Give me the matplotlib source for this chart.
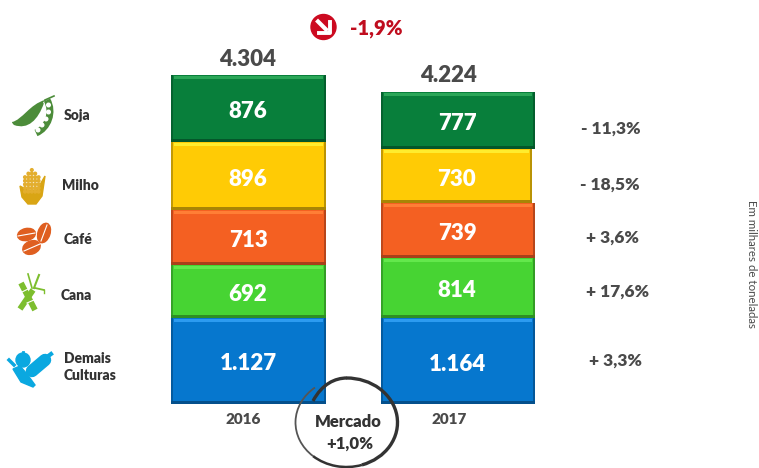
import matplotlib
matplotlib.use("Agg")
import matplotlib.pyplot as plt
import matplotlib.patches as patches
from matplotlib.path import Path

plt.rcParams["font.family"] = ["Lato", "DejaVu Sans"]

W, H = 759, 468

# stacked from the bottom up
categories = ["Demais Culturas", "Cana", "Café", "Milho", "Soja"]
values_2016 = [1127, 692, 713, 896, 876]
values_2017 = [1164, 814, 739, 730, 777]
total_2016 = 4304
total_2017 = 4224
years = ["2016", "2017"]
changes = ["+ 3,3%", "+ 17,6%", "+ 3,6%", "- 18,5%", "- 11,3%"]
total_change = "-1,9%"
market_label = "Mercado\n+1,0%"
unit_label = "Em milhares de toneladas"

COLORS = ["#0677CE", "#47D433", "#F46022", "#FFCB05", "#087F3B"]
LIGHT = ["#2C9BF0", "#63E84C", "#FF7E36", "#FFEC2E", "#2BA658"]
DARK = ["#04508C", "#2E8F22", "#A8401A", "#A88505", "#04562A"]
GREY = "#4A4A4A"
BOLD = 800


def fmt(v):
    return f"{v:,}".replace(",", ".")


def draw_stack(left, right, top, bottom, values, total, text_x):
    ax = fig.add_axes([left / W, 1 - bottom / H, (right - left) / W, (bottom - top) / H])
    ax.set_xlim(0, 1)
    ax.set_ylim(0, total)
    ax.axis("off")
    px_y = total / (bottom - top)
    px_x = 1 / (right - left)

    base = 0
    for i, v in enumerate(values):
        # the yellow 2017 block is a bit narrower in the original
        w = 1.0
        if total == total_2017 and i == 3:
            w = 1 - 3 * px_x
        ax.bar(0, v, w, bottom=base, align="edge", color=COLORS[i], linewidth=0)
        # bevel: light on top, dark below and at the sides
        ax.bar(3 * px_x, 3 * px_y, w - 6 * px_x, bottom=base + v - 4 * px_y, align="edge",
               color=LIGHT[i], linewidth=0)
        ax.bar(0, 3 * px_y, w, bottom=base, align="edge", color=DARK[i], linewidth=0)
        ax.bar(0, v, 1.5 * px_x, bottom=base, align="edge", color=DARK[i], linewidth=0, alpha=0.7)
        ax.bar(w - 2 * px_x, v, 2 * px_x, bottom=base, align="edge", color=DARK[i], linewidth=0, alpha=0.8)
        base += v

    # labels go through the same scale
    base = 0
    for i, v in enumerate(values):
        x = (text_x - left) / (right - left)
        ax.text(x, base + v / 2 - 3 * px_y, fmt(v), color="white", fontsize=16, fontweight=BOLD,
                ha="center", va="center")
        base += v


def blob(ov, verts, color, z=3):
    codes = [Path.MOVETO] + [Path.CURVE4] * (len(verts) - 2) + [Path.CLOSEPOLY]
    ov.add_patch(patches.PathPatch(Path(verts, codes), facecolor=color, edgecolor="none", zorder=z))


def icon_soja(ov):
    c = "#4C8C3A"
    blob(ov, [(12, 122), (22, 120), (30, 104), (45, 100), (48, 99), (50, 98), (44, 103),
              (38, 120), (28, 130), (14, 125), (13, 124), (12, 123), (12, 122)], c)
    curve = Path([(36, 133), (48, 128), (54, 112), (47, 100)],
                 [Path.MOVETO, Path.CURVE4, Path.CURVE4, Path.CURVE4])
    ov.add_patch(patches.PathPatch(curve, facecolor="none", edgecolor="white", lw=6.5, zorder=3))
    ov.add_patch(patches.PathPatch(curve, facecolor="none", edgecolor=c, lw=5, zorder=3))
    ov.plot([45, 54], [100, 96], color=c, lw=1.2, zorder=3)
    for x, y in [(48.5, 105), (48.5, 112), (46, 119), (42, 125), (38, 130)]:
        ov.add_patch(patches.Circle((x, y), 1.8, color="white", zorder=4))


def icon_milho(ov):
    c = "#D9A514"
    ov.add_patch(patches.Polygon([(20, 186), (27, 190), (37, 190), (45, 176), (42, 196),
                                  (36, 204), (28, 204), (22, 197)], color=c, zorder=3))
    for r in range(7):
        for k in range(5):
            if r == 0 and k != 2:
                continue
            if r == 1 and k in (0, 4):
                continue
            ov.add_patch(patches.Circle((25 + k * 3.4, 170 + r * 3.6), 1.35, color="#E3AE2E", zorder=4))


def icon_cafe(ov):
    c = "#DF5F20"
    for x, y, w, h, a in [(26.5, 234.5, 18, 12, -12), (44, 233, 20, 12, -72), (31.5, 247.5, 18, 13, -22)]:
        ov.add_patch(patches.Ellipse((x, y), w, h, angle=a, color=c, zorder=3))
    ov.plot([18, 35], [236, 233], color="white", lw=0.8, zorder=4)
    ov.plot([41, 47], [241, 225], color="white", lw=0.8, zorder=4)
    ov.plot([24, 40], [251, 244], color="white", lw=0.8, zorder=4)


def icon_cana(ov):
    c = "#7DBE2E"
    ov.plot([21, 35], [283, 310], color=c, lw=4.2, solid_capstyle="butt", zorder=3)
    ov.plot([20, 33], [309, 290], color=c, lw=4.2, solid_capstyle="butt", zorder=3)
    ov.plot([22, 28], [292, 289], color="white", lw=0.8, zorder=4)
    ov.plot([27, 34], [303, 300], color="white", lw=0.8, zorder=4)
    ov.plot([28, 32], [274, 288], color=c, lw=1.2, zorder=3)
    ov.plot([39, 34], [275, 288], color=c, lw=1.5, zorder=3)
    ov.plot([35, 44], [288, 290], color=c, lw=1.3, zorder=3)
    ov.plot([44, 44], [290, 293], color=c, lw=1.0, zorder=3)


def icon_demais(ov):
    c = "#0AA8E0"
    ov.add_patch(patches.Circle((23, 360), 7, color=c, zorder=3))
    ov.plot([23, 23], [352, 354], color=c, lw=2, zorder=3)
    ov.add_patch(patches.Polygon([(13, 369), (20, 366), (27, 374), (35, 385), (33, 387), (21, 382)],
                                 color=c, zorder=3))
    ov.plot([9, 14], [360, 365], color=c, lw=2.5, zorder=3)
    ov.plot([32, 45], [371, 360], color=c, lw=9, solid_capstyle="round", zorder=3)
    ov.plot([47, 51], [357, 354], color=c, lw=3, zorder=3)


fig = plt.figure(figsize=(W / 100, H / 100), dpi=100)
fig.patch.set_facecolor("white")

draw_stack(171, 326, 75, 404, values_2016, total_2016, 248)
draw_stack(381, 535, 92, 404, values_2017, total_2017, 457)

ov = fig.add_axes([0, 0, 1, 1], facecolor="none")
ov.set_xlim(0, W)
ov.set_ylim(H, 0)
ov.axis("off")

# totals and years
ov.text(248, 59, fmt(total_2016), color=GREY, fontsize=16, fontweight=BOLD, ha="center", va="center")
ov.text(449, 75, fmt(total_2017), color=GREY, fontsize=16, fontweight=BOLD, ha="center", va="center")
ov.text(243, 420, years[0], color=GREY, fontsize=11, fontweight=BOLD, ha="center", va="center")
ov.text(449, 419, years[1], color=GREY, fontsize=11, fontweight=BOLD, ha="center", va="center")

# category names
label_pos = [(64, 367), (61, 295), (64, 240), (62, 186), (64, 116)]
for name, (x, y) in zip(categories, label_pos):
    ov.text(x, y, name.replace(" ", "\n"), color="#333333", fontsize=10, fontweight=BOLD,
            ha="left", va="center", linespacing=1.35)

# changes
change_pos = [(589, 361), (586, 292), (586, 238), (580, 185), (581, 129)]
for txt, (x, y) in zip(changes, change_pos):
    ov.text(x, y, txt, color=GREY, fontsize=12.5, fontweight=BOLD, ha="left", va="center")

ov.text(751, 264, unit_label, color=GREY, fontsize=8.3, rotation=270, ha="center", va="center")

# total change with arrow badge
ov.add_patch(patches.Circle((323.5, 27), 12.5, color="#CC0A20", zorder=3))
ov.plot([318, 326], [21.5, 29.5], color="white", lw=3, zorder=4)
ov.plot([319, 329.5, 329.5], [32.5, 32.5, 22], color="white", lw=2.8, zorder=4)
ov.text(350, 28, total_change, color="#C00D1E", fontsize=14.5, fontweight=BOLD, ha="left", va="center")

# hand drawn market circle
ov.add_patch(patches.Arc((346.5, 422.5), 102, 89, theta1=-90, theta2=70, color="#333333", lw=2.4, zorder=5))
ov.add_patch(patches.Arc((346.5, 422.5), 102, 89, theta1=70, theta2=135, color="#333333", lw=1.8, zorder=5))
ov.add_patch(patches.Arc((346.5, 422.5), 102, 89, theta1=135, theta2=228, color="#555555", lw=1.3, zorder=5))
start = Path([(313, 401), (322, 384), (335, 378), (347, 378)],
             [Path.MOVETO, Path.CURVE4, Path.CURVE4, Path.CURVE4])
ov.add_patch(patches.PathPatch(start, facecolor="none", edgecolor="#333333", lw=2.4, zorder=5))
ov.text(348, 422, market_label.split("\n")[0], color="#333333", fontsize=12, fontweight=BOLD,
        ha="center", va="center")
ov.text(350, 444, market_label.split("\n")[1], color="#333333", fontsize=12, fontweight=BOLD,
        ha="center", va="center")

icon_soja(ov)
icon_milho(ov)
icon_cafe(ov)
icon_cana(ov)
icon_demais(ov)

fig.savefig("out.png", dpi=100)
